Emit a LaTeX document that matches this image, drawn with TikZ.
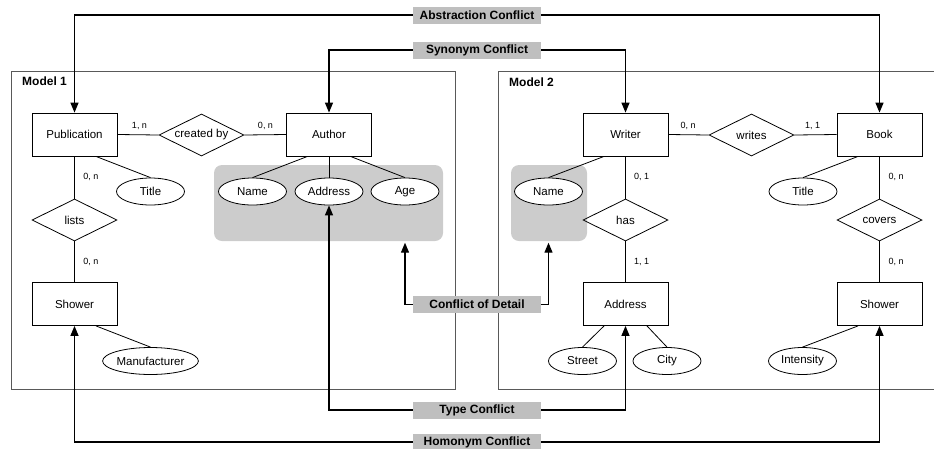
\documentclass[tikz,border=0pt]{standalone}
\usepackage{fontspec}
\setmainfont{Liberation Sans}
\usetikzlibrary{shapes.geometric,arrows.meta,calc}
\begin{document}
\begin{tikzpicture}[x=1pt,y=-1pt,
  lbl/.style={font=\fontsize{11.5}{13}\selectfont},
  ent/.style={draw,lbl,line width=0.8pt,minimum width=85pt,minimum height=43pt,inner sep=0pt},
  rel/.style={draw,lbl,diamond,aspect=2,line width=0.8pt,minimum width=85pt,minimum height=42pt,inner sep=0pt},
  attr/.style={draw,lbl,ellipse,fill=white,line width=0.8pt,minimum width=68pt,minimum height=27pt,inner sep=0pt},
  card/.style={font=\fontsize{9}{10}\selectfont,inner sep=0pt},
  conflbl/.style={fill=black!25,minimum width=128pt,minimum height=17pt,inner sep=0pt,font=\bfseries\fontsize{12}{14}\selectfont},
  conf/.style={line width=1.3pt,-{Triangle[length=10pt,width=8pt]}},
  link/.style={line width=0.8pt},
  frame/.style={draw=black!65,line width=0.9pt},
  region/.style={fill=black!20,rounded corners=8pt,inner sep=0pt},
  modlbl/.style={font=\bfseries\fontsize{12}{14}\selectfont,inner sep=0pt,anchor=west}]
\useasboundingbox (0,0) rectangle (934,448);
% frames
\draw[frame] (11,71) rectangle (455.5,389);
\draw[frame] (935,71) -- (498,71) -- (498,389) -- (935,389);
\node[modlbl] (m1) at (22,81.5) {Model 1};
\node[modlbl] (m2) at (509,82) {Model 2};
% gray regions
\node[region,minimum width=229pt,minimum height=76pt] (g1) at (328.5,203) {};
\node[region,minimum width=76pt,minimum height=76pt] (g2) at (549,203) {};
% entities
\node[ent] (pub) at (74.5,134.5) {Publication};
\node[rel] (crb) at (201.5,135) {created by};
\node[ent] (auth) at (329,134.5) {Author};
\node[ent] (writer) at (625.5,134.5) {Writer};
\node[rel] (writes) at (751.5,135) {writes};
\node[ent] (book) at (879.5,134.5) {Book};
\node[rel] (lists) at (74.5,220) {lists};
\node[rel] (has) at (625.5,220) {has};
\node[rel] (covers) at (879.5,220) {covers};
\node[ent] (shower1) at (74.5,304) {Shower};
\node[ent] (address) at (625.5,304) {Address};
\node[ent] (shower2) at (879.5,304) {Shower};
% attributes
\node[attr] (title1) at (150.5,191.5) {Title};
\node[attr] (name1) at (252.5,191.5) {Name};
\node[attr] (addr1) at (329,191.5) {Address};
\node[attr] (age) at (405,191.5) {Age};
\node[attr] (name2) at (548.5,191.5) {Name};
\node[attr] (title2) at (803,191.5) {Title};
\node[attr] (manuf) at (150.5,361) {Manufacturer};
\node[attr] (street) at (582.5,361) {Street};
\node[attr] (city) at (667,361) {City};
\node[attr] (intens) at (802.5,361) {Intensity};
% relationship links
\draw[link] (pub.east) -- (crb.west);
\draw[link] (crb.east) -- (auth.west);
\draw[link] (writer.east) -- (writes.west);
\draw[link] (writes.east) -- (book.west);
\draw[link] (pub.south) -- (lists.north);
\draw[link] (lists.south) -- (shower1.north);
\draw[link] (writer.south) -- (has.north);
\draw[link] (has.south) -- (address.north);
\draw[link] (book.south) -- (covers.north);
\draw[link] (covers.south) -- (shower2.north);
% attribute links
\draw[link] ($(pub.south east)!0.25!(pub.south west)$) -- (title1.north);
\draw[link] ($(auth.south west)!0.25!(auth.south east)$) -- (name1.north);
\draw[link] (auth.south) -- (addr1.north);
\draw[link] ($(auth.south east)!0.25!(auth.south west)$) -- (age.north);
\draw[link] ($(writer.south west)!0.25!(writer.south east)$) -- (name2.north);
\draw[link] ($(book.south west)!0.25!(book.south east)$) -- (title2.north);
\draw[link] ($(shower1.south east)!0.25!(shower1.south west)$) -- (manuf.north);
\draw[link] ($(address.south west)!0.25!(address.south east)$) -- (street.north);
\draw[link] ($(address.south east)!0.25!(address.south west)$) -- (city.north);
\draw[link] ($(shower2.south west)!0.25!(shower2.south east)$) -- (intens.north);
% cardinalities
\node[card] (c1) at (139.5,126) {1, n};
\node[card] (c2) at (265.5,126) {0, n};
\node[card] (c3) at (688,126) {0, n};
\node[card] (c4) at (812.5,126) {1, 1};
\node[card] (c5) at (91,177) {0, n};
\node[card] (c6) at (91,262) {0, n};
\node[card] (c7) at (641.5,177) {0, 1};
\node[card] (c8) at (641.5,262) {1, 1};
\node[card] (c9) at (896,177) {0, n};
\node[card] (c10) at (896,262) {0, n};
% conflict labels
\node[conflbl] (abs) at (477,15) {Abstraction Conflict};
\node[conflbl] (syn) at (477,50) {Synonym Conflict};
\node[conflbl] (cod) at (477,304.5) {Conflict of Detail};
\node[conflbl] (type) at (477,410) {Type Conflict};
\node[conflbl] (hom) at (477,442) {Homonym Conflict};
% conflict arrows
\draw[conf] (abs.west) -| (pub.north);
\draw[conf] (abs.east) -| (book.north);
\draw[conf] (syn.west) -| (auth.north);
\draw[conf] (syn.east) -| (writer.north);
\draw[conf] (cod.west) -| ($(age.center |- g1.south)+(0,1.5)$);
\draw[conf] (cod.east) -| ($(name2.center |- g2.south)+(0,1.5)$);
\draw[conf] (type.west) -| (addr1.south);
\draw[conf] (type.east) -| (address.south);
\draw[conf] (hom.west) -| (shower1.south);
\draw[conf] (hom.east) -| (shower2.south);
\end{tikzpicture}
\end{document}
